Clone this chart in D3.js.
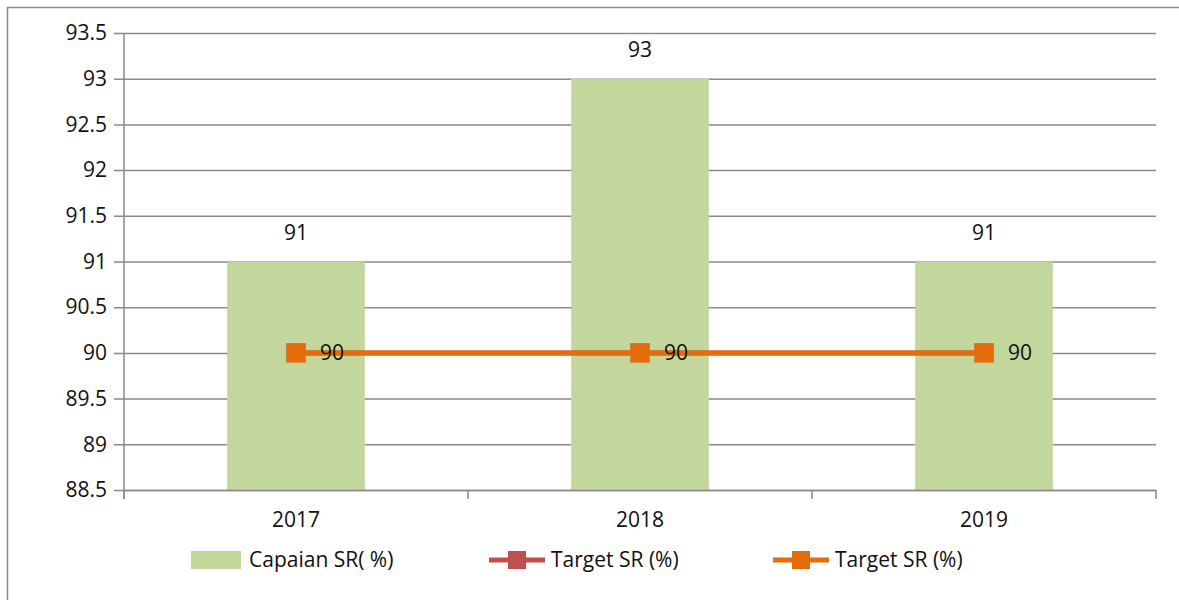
<!DOCTYPE html>
<html>
<head>
<meta charset="utf-8">
<script src="https://cdn.jsdelivr.net/npm/d3@7"></script>
<style>
  body { margin: 0; background: #fff; }
  text { font-family: "Open Sans", sans-serif; fill: #111; }
</style>
</head>
<body>
<div id="chart"></div>
<script>
var years = ["2017", "2018", "2019"];
var capaian = [91, 93, 91];
var targetA = [90, 90, 90];
var targetB = [90, 90, 90];
var yTicks = [88.5, 89, 89.5, 90, 90.5, 91, 91.5, 92, 92.5, 93, 93.5];
var seriesNames = ["Capaian SR( %)", "Target SR (%)", "Target SR (%)"];

var W = 1179, H = 600;
var margin = { left: 124, right: 23, top: 33, bottom: 110 };
var width = W - margin.left - margin.right;
var height = H - margin.top - margin.bottom;

var svg = d3.select("#chart").append("svg")
    .attr("width", W)
    .attr("height", H);

// outer chart border
svg.append("rect")
    .attr("x", 7.5).attr("y", 7.5)
    .attr("width", 1300).attr("height", 800)
    .attr("fill", "none")
    .attr("stroke", "#8a8a8a")
    .attr("stroke-width", 1.5);

var g = svg.append("g")
    .attr("transform", "translate(" + margin.left + "," + margin.top + ")");

var x = d3.scaleBand().domain(years).range([0, width]).paddingInner(0.6).paddingOuter(0.3);
var xCat = d3.scaleBand().domain(years).range([0, width]);
var y = d3.scaleLinear().domain([88.5, 93.5]).range([height, 0]);

// gridlines + y axis
var yAxis = g.append("g")
    .call(d3.axisLeft(y).tickValues(yTicks).tickSize(-width - 10).tickSizeOuter(0).tickPadding(7)
        .tickFormat(function(d){ return String(d); }))
    .attr("transform", "translate(0,0)");
yAxis.select(".domain").remove();
yAxis.selectAll(".tick line")
    .attr("x1", -10).attr("x2", width)
    .attr("stroke", "#8a8a8a").attr("stroke-width", 1.5);
yAxis.selectAll(".tick text")
    .attr("x", -17)
    .style("font-family", "'Open Sans', sans-serif")
    .style("font-size", "21px")
    .attr("fill", "#111");

// bars
g.selectAll(".bar")
    .data(capaian)
    .enter().append("rect")
    .attr("class", "bar")
    .attr("x", function(d, i){ return x(years[i]); })
    .attr("width", x.bandwidth())
    .attr("y", function(d){ return y(d); })
    .attr("height", function(d){ return height - y(d); })
    .attr("fill", "#c3d69b");

// bar labels
g.selectAll(".barLabel")
    .data(capaian)
    .enter().append("text")
    .attr("x", function(d, i){ return xCat(years[i]) + xCat.bandwidth() / 2; })
    .attr("y", function(d){ return y(d) - 22; })
    .attr("text-anchor", "middle")
    .attr("font-size", "21px")
    .text(function(d){ return d; });

// vertical axis line
g.append("line")
    .attr("x1", 0).attr("x2", 0)
    .attr("y1", 0).attr("y2", height + 9)
    .attr("stroke", "#8a8a8a").attr("stroke-width", 1.5);

// x axis
var xAxis = g.append("g")
    .attr("transform", "translate(0," + height + ")")
    .call(d3.axisBottom(xCat).tickSize(0).tickPadding(22));
xAxis.select(".domain").attr("stroke", "#8a8a8a").attr("stroke-width", 1.5);
xAxis.selectAll(".tick text")
    .style("font-family", "'Open Sans', sans-serif")
    .style("font-size", "21px")
    .attr("fill", "#111");
xAxis.selectAll(".catTick")
    .data(years.concat(["end"]))
    .enter().append("line")
    .attr("class", "catTick")
    .attr("x1", function(d, i){ return i * xCat.step(); })
    .attr("x2", function(d, i){ return i * xCat.step(); })
    .attr("y1", 0).attr("y2", 9)
    .attr("stroke", "#8a8a8a").attr("stroke-width", 1.5);

// target lines
var line = d3.line()
    .x(function(d, i){ return xCat(years[i]) + xCat.bandwidth() / 2; })
    .y(function(d){ return y(d); });

function drawSeries(data, color, cls) {
    g.append("path")
        .datum(data)
        .attr("fill", "none")
        .attr("stroke", color)
        .attr("stroke-width", 5)
        .attr("d", line);
    g.selectAll("." + cls)
        .data(data)
        .enter().append("rect")
        .attr("class", cls)
        .attr("x", function(d, i){ return xCat(years[i]) + xCat.bandwidth() / 2 - 9.5; })
        .attr("y", function(d){ return y(d) - 9.5; })
        .attr("width", 19).attr("height", 19)
        .attr("fill", color);
}
drawSeries(targetA, "#c0504d", "mA");
drawSeries(targetB, "#e46c0a", "mB");

g.selectAll(".lineLabel")
    .data(targetB)
    .enter().append("text")
    .attr("x", function(d, i){ return xCat(years[i]) + xCat.bandwidth() / 2 + 24; })
    .attr("y", function(d){ return y(d); })
    .attr("dy", "0.35em")
    .attr("font-size", "21px")
    .text(function(d){ return d; });

// legend
var legY = 560;
var leg = svg.append("g");
leg.append("rect")
    .attr("x", 191).attr("y", legY - 9)
    .attr("width", 50).attr("height", 18)
    .attr("fill", "#c3d69b");
leg.append("text")
    .attr("x", 249).attr("y", legY).attr("dy", "0.35em")
    .attr("font-size", "21px")
    .text(seriesNames[0]);

var lineItems = [
    { x: 489, color: "#c0504d", name: seriesNames[1] },
    { x: 773, color: "#e46c0a", name: seriesNames[2] }
];
lineItems.forEach(function(it){
    leg.append("line")
        .attr("x1", it.x).attr("x2", it.x + 56)
        .attr("y1", legY).attr("y2", legY)
        .attr("stroke", it.color).attr("stroke-width", 5);
    leg.append("rect")
        .attr("x", it.x + 19).attr("y", legY - 9)
        .attr("width", 18).attr("height", 18)
        .attr("fill", it.color);
    leg.append("text")
        .attr("x", it.x + 62).attr("y", legY).attr("dy", "0.35em")
        .attr("font-size", "21px")
        .text(it.name);
});
</script>
</body>
</html>
